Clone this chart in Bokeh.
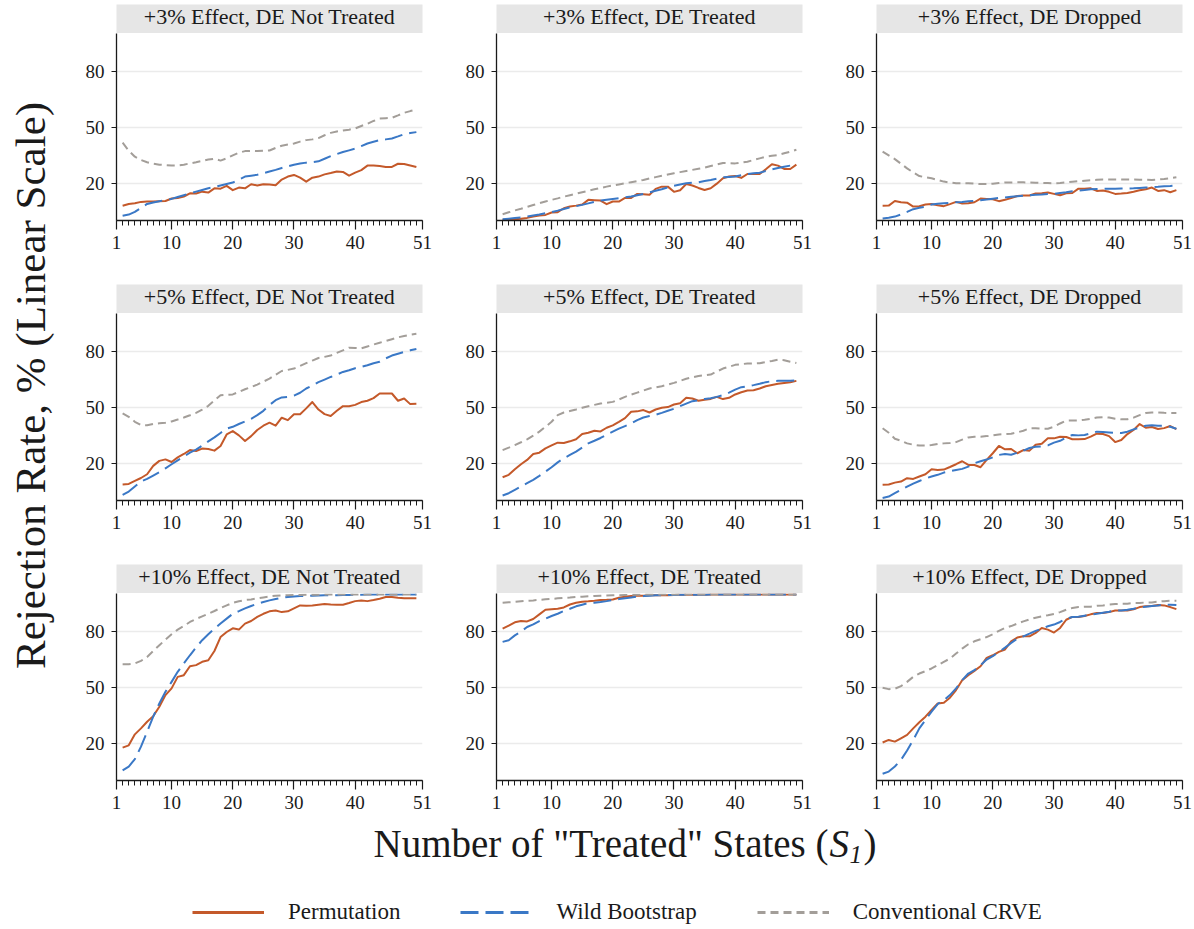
import math
from bokeh.plotting import figure
from bokeh.layouts import row, column
from bokeh.models import Range1d, FixedTicker, Legend, LegendItem
from bokeh.core.properties import value
from bokeh.embed import file_html
from bokeh.resources import INLINE

# ---------------------------------------------------------------- data
states = list(range(2, 51))            # number of treated states S1
x_ticks = [1, 10, 20, 30, 40, 51]
x_minor = list(range(1, 52))
y_ticks = [20, 50, 80]
effects = ["+3%", "+5%", "+10%"]
designs = ["DE Not Treated", "DE Treated", "DE Dropped"]
methods = ["Permutation", "Wild Bootstrap", "Conventional CRVE"]

# +3% effect
perm_3_nt = [7.9, 8.9, 9.3, 10.0, 10.2, 10.2, 10.4,
             10.5, 11.8, 12.1, 12.9, 14.6, 14.5, 15.5,
             15.0, 17.3, 17.1, 18.6, 16.3, 17.7, 17.3,
             19.5, 18.8, 19.5, 19.3, 18.9, 22.0, 23.6,
             24.5, 23.0, 20.9, 23.0, 23.6, 24.8, 25.5,
             26.3, 26.1, 24.1, 25.7, 27.1, 29.5, 29.5,
             29.3, 28.8, 28.8, 30.5, 30.4, 29.6, 28.8]
wild_3_nt = [2.5, 3.2, 4.6, 6.8, 8.9, 9.7, 10.4,
             11.0, 11.6, 12.6, 13.6, 14.6, 15.5, 16.4,
             17.3, 18.0, 18.8, 19.6, 20.4, 22.0, 23.6,
             24.1, 24.6, 25.4, 26.3, 27.2, 28.2, 29.1,
             30.0, 30.6, 31.1, 31.4, 31.8, 33.2, 34.6,
             35.7, 36.8, 37.7, 38.6, 40.0, 41.4, 42.3,
             43.2, 43.6, 44.1, 45.2, 46.4, 47.0, 47.5]
crve_3_nt = [41.8, 37.5, 34.3, 32.5, 31.3, 30.5, 30.0,
             29.8, 29.6, 29.6, 30.0, 30.7, 31.3, 32.0,
             32.8, 33.2, 32.2, 33.4, 35.0, 36.4, 37.3,
             37.4, 37.3, 37.5, 37.6, 39.0, 40.2, 40.8,
             41.4, 42.4, 43.2, 43.6, 44.3, 45.8, 47.1,
             47.8, 48.4, 48.8, 49.5, 50.8, 52.0, 53.5,
             54.8, 55.0, 55.2, 56.5, 57.9, 58.8, 59.6]

perm_3_t = [0.4, 0.5, 0.7, 0.9, 1.4, 2.1, 2.7,
            3.0, 4.3, 4.5, 6.6, 7.5, 8.0, 8.6,
            11.1, 10.9, 10.7, 8.8, 10.2, 10.2, 12.1,
            12.1, 14.3, 14.1, 13.8, 17.0, 18.2, 18.2,
            15.4, 16.3, 19.6, 18.8, 17.5, 16.4, 17.3,
            19.8, 22.7, 23.6, 23.9, 22.9, 25.0, 25.0,
            25.0, 27.5, 30.2, 29.5, 27.7, 27.7, 30.0]
wild_3_t = [0.7, 1.0, 1.3, 1.6, 2.1, 2.7, 3.2,
            3.9, 4.5, 5.3, 6.2, 7.0, 7.7, 8.4,
            9.2, 10.0, 10.7, 11.2, 11.6, 12.0, 12.5,
            12.9, 13.6, 14.3, 15.1, 16.0, 16.8, 17.8,
            18.7, 19.4, 20.0, 20.3, 20.5, 21.2, 21.8,
            22.5, 23.2, 23.4, 23.6, 24.3, 25.0, 25.4,
            25.7, 26.6, 27.5, 28.2, 28.9, 29.5, 30.0]
crve_3_t = [3.4, 4.4, 5.4, 6.3, 7.3, 8.3, 9.3,
            10.2, 11.1, 11.9, 12.8, 13.6, 14.4, 15.2,
            16.0, 16.8, 17.5, 18.2, 18.8, 19.4, 20.0,
            20.6, 21.2, 21.8, 22.6, 23.3, 24.0, 24.7,
            25.4, 26.0, 26.6, 27.2, 27.8, 28.4, 29.3,
            30.1, 30.9, 30.8, 30.7, 31.1, 31.6, 32.5,
            33.4, 34.3, 34.8, 35.2, 36.1, 37.0, 38.0]

perm_3_d = [7.9, 8.0, 10.5, 9.8, 9.6, 7.5, 7.7,
            8.6, 8.9, 8.2, 7.7, 8.8, 10.0, 9.1,
            9.3, 9.8, 11.8, 11.6, 11.4, 10.4, 11.1,
            12.1, 13.2, 13.4, 13.4, 14.5, 14.6, 15.0,
            14.3, 13.6, 14.6, 14.8, 17.1, 17.0, 17.3,
            15.9, 16.1, 15.4, 14.3, 14.5, 14.8, 15.5,
            16.3, 16.8, 17.7, 15.9, 16.3, 15.2, 16.3]
wild_3_d = [1.1, 1.5, 2.1, 3.2, 4.6, 6.1, 6.8,
            7.5, 8.6, 9.0, 9.3, 9.5, 9.8, 10.0,
            10.3, 10.6, 10.9, 11.3, 11.7, 12.1, 12.4,
            12.7, 13.0, 13.3, 13.6, 13.9, 14.0, 14.2,
            14.3, 14.8, 15.2, 15.7, 16.1, 16.4, 16.8,
            16.9, 17.0, 17.0, 17.1, 17.2, 17.2, 17.3,
            17.5, 17.7, 17.9, 18.1, 18.4, 18.6, 18.9]
crve_3_d = [37.0, 35.0, 33.0, 30.5, 28.0, 25.8, 23.9,
            23.2, 22.7, 21.8, 20.9, 20.4, 20.0, 20.0,
            20.0, 19.8, 19.6, 19.6, 19.8, 20.1, 20.4,
            20.4, 20.5, 20.5, 20.4, 20.3, 20.2, 20.1,
            20.0, 20.2, 20.5, 20.8, 21.1, 21.4, 21.6,
            21.9, 22.1, 22.1, 22.1, 22.1, 22.0, 22.0,
            21.9, 21.9, 21.8, 22.0, 22.3, 22.7, 23.2]

# +5% effect
perm_5_nt = [8.6, 8.9, 10.5, 12.1, 14.1, 18.6, 21.3,
             22.1, 20.7, 23.2, 25.0, 27.1, 26.6, 27.9,
             27.7, 26.8, 29.3, 35.5, 37.3, 35.0, 32.0,
             34.6, 37.9, 40.2, 41.8, 40.2, 44.5, 43.2,
             46.4, 46.4, 49.5, 52.9, 48.9, 46.4, 45.4,
             48.2, 50.7, 50.7, 51.4, 52.9, 53.6, 55.0,
             57.5, 57.5, 57.5, 53.6, 54.8, 51.8, 52.0]
wild_5_nt = [3.0, 4.8, 7.5, 10.2, 11.6, 13.4, 15.2,
             17.3, 19.5, 21.6, 23.6, 25.7, 27.3, 29.5,
             31.8, 33.9, 36.3, 38.6, 39.6, 41.1, 42.5,
             43.9, 45.9, 48.2, 51.3, 53.9, 55.4, 55.7,
             56.4, 57.9, 60.2, 61.8, 63.6, 65.0, 66.4,
             67.7, 69.1, 70.0, 71.1, 71.8, 72.7, 73.8,
             74.6, 76.4, 77.9, 78.9, 79.8, 80.7, 81.4]
crve_5_nt = [46.8, 45.0, 42.3, 40.5, 40.4, 41.1, 41.5,
             41.8, 42.5, 43.5, 44.6, 45.8, 47.1, 48.8,
             50.9, 53.8, 56.6, 56.8, 57.0, 58.4, 59.8,
             61.0, 62.3, 63.9, 65.5, 67.6, 69.6, 70.2,
             70.9, 72.3, 73.8, 75.2, 76.6, 77.2, 77.9,
             79.3, 80.7, 82.1, 82.0, 81.8, 82.8, 83.8,
             84.8, 85.7, 86.7, 87.7, 88.4, 89.1, 89.6]

perm_5_t = [12.5, 13.8, 16.8, 19.5, 21.8, 25.0, 25.7,
            28.0, 29.6, 31.1, 30.9, 31.8, 32.9, 35.7,
            36.4, 37.5, 37.1, 39.1, 40.4, 42.3, 44.3,
            47.7, 47.9, 48.6, 47.3, 48.9, 49.8, 50.2,
            51.6, 52.3, 55.2, 54.8, 53.6, 54.1, 54.6,
            55.7, 54.5, 55.2, 57.0, 58.2, 59.1, 59.3,
            60.2, 61.4, 62.1, 62.7, 63.2, 63.6, 64.3]
wild_5_t = [2.7, 3.9, 5.7, 7.5, 9.3, 11.1, 13.2,
            15.5, 17.9, 20.5, 22.7, 24.5, 26.3, 28.4,
            30.7, 32.1, 33.6, 35.4, 37.0, 38.6, 40.0,
            41.4, 43.2, 44.6, 45.4, 46.1, 47.1, 48.2,
            49.3, 50.7, 52.1, 53.4, 53.9, 54.5, 55.0,
            55.7, 56.6, 58.0, 59.6, 60.9, 61.4, 62.0,
            62.7, 63.6, 64.1, 64.3, 64.3, 64.3, 64.5]
crve_5_t = [27.1, 28.4, 29.8, 31.3, 32.9, 34.9, 37.0,
            39.6, 42.3, 45.9, 47.3, 48.1, 48.9, 49.8,
            50.7, 51.4, 52.1, 52.5, 53.0, 54.3, 55.7,
            56.9, 58.0, 59.1, 60.2, 60.8, 61.4, 62.3,
            63.2, 64.3, 65.4, 66.2, 66.9, 67.3, 67.7,
            69.3, 70.9, 71.9, 72.9, 73.3, 73.6, 73.7,
            73.8, 74.4, 75.0, 75.7, 75.4, 74.6, 73.9]

perm_5_d = [8.4, 8.6, 9.6, 10.2, 12.0, 11.6, 12.9,
            14.1, 16.8, 16.4, 16.6, 18.0, 19.5, 21.1,
            19.1, 19.1, 17.9, 21.8, 25.4, 29.3, 27.5,
            27.7, 25.4, 27.1, 26.8, 30.0, 30.5, 33.4,
            33.4, 34.3, 34.1, 32.9, 32.9, 33.0, 34.3,
            35.9, 35.7, 34.6, 31.4, 32.5, 35.7, 37.9,
            41.1, 39.1, 39.5, 38.4, 38.9, 40.0, 38.4]
wild_5_d = [1.3, 2.1, 3.9, 5.7, 7.5, 9.1, 10.5,
            11.8, 12.9, 13.8, 15.0, 15.7, 16.4, 17.0,
            18.2, 20.0, 21.1, 22.0, 23.2, 24.5, 25.0,
            24.6, 25.7, 26.8, 28.2, 28.9, 29.1, 29.6,
            31.1, 32.1, 33.9, 35.2, 35.0, 35.2, 36.1,
            37.0, 36.8, 36.6, 36.4, 36.3, 37.0, 38.2,
            39.3, 40.2, 40.4, 40.2, 40.2, 39.6, 38.6]
crve_5_d = [38.8, 36.4, 33.2, 32.1, 30.7, 30.0, 29.5,
            29.5, 29.8, 30.4, 30.7, 30.9, 31.4, 32.7,
            33.9, 34.3, 34.3, 34.6, 35.0, 35.5, 35.7,
            35.9, 36.6, 37.5, 38.8, 38.8, 38.6, 38.6,
            39.6, 41.4, 42.9, 43.0, 43.0, 43.4, 43.9,
            44.6, 44.8, 44.6, 43.9, 43.6, 43.7, 44.5,
            45.9, 47.0, 47.3, 47.3, 47.1, 47.0, 47.0]

# +10% effect
perm_10_nt = [17.7, 18.9, 24.8, 28.0, 31.6, 34.6, 39.6,
              45.9, 49.5, 55.7, 56.6, 61.4, 62.0, 63.8,
              64.6, 69.6, 77.1, 79.8, 81.8, 81.1, 84.3,
              85.7, 87.9, 89.6, 90.9, 91.4, 90.5, 90.9,
              92.5, 94.1, 93.9, 94.1, 94.5, 94.8, 94.6,
              94.5, 94.5, 95.4, 96.4, 96.8, 96.4, 97.0,
              97.7, 98.6, 98.6, 98.2, 97.9, 97.9, 97.9]
wild_10_nt = [5.4, 7.5, 11.5, 18.2, 26.2, 34.3, 41.4,
              47.7, 53.0, 58.4, 62.9, 67.3, 71.5, 75.4,
              78.6, 81.6, 84.4, 87.0, 89.6, 91.0, 92.5,
              93.8, 95.0, 95.9, 96.8, 97.5, 98.2, 98.6,
              98.9, 99.1, 99.2, 99.3, 99.4, 99.5, 99.6,
              99.6, 99.7, 99.7, 99.8, 99.8, 99.9, 99.9,
              99.9, 99.9, 99.9, 99.9, 99.9, 99.9, 99.9]
crve_10_nt = [62.5, 62.5, 62.9, 64.3, 66.4, 69.6, 72.7,
              75.7, 78.6, 81.1, 83.0, 85.2, 86.8, 88.2,
              89.6, 91.1, 92.7, 94.1, 95.5, 96.3, 97.0,
              97.3, 97.9, 98.4, 98.9, 99.3, 99.5, 99.6,
              99.7, 99.7, 99.8, 99.8, 99.8, 99.9, 99.9,
              99.9, 99.9, 99.9, 99.9, 99.9, 99.9, 99.9,
              99.9, 99.9, 99.9, 99.9, 99.9, 99.9, 99.9]

perm_10_t = [81.6, 83.2, 85.0, 85.7, 85.5, 86.8, 89.3,
             91.8, 92.1, 92.3, 93.0, 94.6, 95.5, 96.1,
             96.3, 96.6, 97.0, 97.1, 97.3, 98.2, 98.8,
             99.1, 99.3, 99.3, 99.5, 99.5, 99.6, 99.6,
             99.7, 99.8, 99.8, 99.8, 99.8, 99.8, 99.9,
             99.9, 99.9, 99.9, 99.9, 99.9, 99.9, 99.9,
             99.9, 99.9, 99.9, 99.9, 99.9, 99.9, 99.9]
wild_10_t = [74.5, 75.4, 78.0, 80.0, 82.5, 83.9, 85.7,
             87.0, 88.4, 89.6, 91.1, 92.3, 93.6, 94.5,
             95.4, 95.5, 95.9, 96.4, 97.0, 97.5, 98.0,
             98.4, 98.8, 99.1, 99.3, 99.5, 99.6, 99.7,
             99.7, 99.8, 99.8, 99.8, 99.8, 99.8, 99.9,
             99.9, 99.9, 99.9, 99.9, 99.9, 99.9, 99.9,
             99.9, 99.9, 99.9, 99.9, 99.9, 99.9, 99.9]
crve_10_t = [95.5, 95.8, 96.0, 96.3, 96.6, 96.8, 97.1,
             97.4, 97.6, 97.9, 98.1, 98.3, 98.6, 98.8,
             99.0, 99.2, 99.3, 99.4, 99.5, 99.6, 99.7,
             99.8, 99.8, 99.9, 99.9, 99.9, 99.9, 99.9,
             99.9, 99.9, 99.9, 99.9, 99.9, 99.9, 99.9,
             99.9, 99.9, 99.9, 99.9, 99.9, 99.9, 99.9,
             99.9, 99.9, 99.9, 99.9, 99.9, 99.9, 99.9]

perm_10_d = [20.4, 21.8, 20.9, 22.7, 24.5, 28.0, 31.3,
             34.3, 37.9, 41.4, 41.8, 44.5, 48.6, 53.9,
             56.6, 58.9, 61.4, 65.9, 67.3, 69.1, 70.4,
             74.8, 76.8, 77.5, 77.5, 79.3, 82.0, 81.1,
             79.5, 82.0, 86.4, 87.9, 87.9, 88.4, 89.3,
             90.0, 90.0, 90.5, 91.4, 91.4, 91.4, 92.0,
             93.2, 93.6, 93.8, 94.3, 94.1, 93.2, 92.1]
wild_10_d = [3.6, 4.8, 7.5, 11.1, 16.1, 21.8, 28.0,
             32.5, 37.0, 41.1, 43.2, 45.9, 49.5, 53.9,
             57.5, 59.3, 62.0, 65.0, 66.8, 69.1, 71.4,
             73.9, 76.3, 77.5, 78.9, 80.4, 81.6, 82.9,
             83.8, 85.2, 87.0, 87.9, 88.0, 88.6, 89.1,
             89.6, 90.2, 90.7, 91.3, 91.4, 91.8, 92.3,
             93.0, 93.4, 93.8, 94.1, 94.5, 94.5, 94.3]
crve_10_d = [49.8, 49.1, 49.3, 50.7, 53.0, 55.7, 57.5,
             58.8, 60.2, 62.0, 63.8, 65.5, 68.2, 70.9,
             73.2, 74.8, 75.9, 77.1, 78.6, 80.4, 82.0,
             83.0, 84.3, 85.5, 86.6, 87.5, 88.2, 88.8,
             89.5, 90.5, 91.8, 92.7, 93.2, 93.4, 93.4,
             93.9, 94.1, 94.5, 94.8, 95.0, 95.0, 95.4,
             95.4, 95.7, 95.7, 96.1, 96.4, 96.6, 96.6]

panel_series = {
    ("+3%", "DE Not Treated"): (perm_3_nt, wild_3_nt, crve_3_nt),
    ("+3%", "DE Treated"): (perm_3_t, wild_3_t, crve_3_t),
    ("+3%", "DE Dropped"): (perm_3_d, wild_3_d, crve_3_d),
    ("+5%", "DE Not Treated"): (perm_5_nt, wild_5_nt, crve_5_nt),
    ("+5%", "DE Treated"): (perm_5_t, wild_5_t, crve_5_t),
    ("+5%", "DE Dropped"): (perm_5_d, wild_5_d, crve_5_d),
    ("+10%", "DE Not Treated"): (perm_10_nt, wild_10_nt, crve_10_nt),
    ("+10%", "DE Treated"): (perm_10_t, wild_10_t, crve_10_t),
    ("+10%", "DE Dropped"): (perm_10_d, wild_10_d, crve_10_d),
}

# ---------------------------------------------------------------- style
FONT = "Liberation Serif"
INK = "#1a1a1a"
STRIP_FILL = "#e6e6e6"
GRID = "#ebebeb"
STYLES = {
    "Permutation": dict(line_color="#c4592a", line_width=2),
    "Wild Bootstrap": dict(line_color="#3a78c6", line_width=2, line_dash="18 7"),
    "Conventional CRVE": dict(line_color="#a39e99", line_width=2, line_dash="8 5"),
}
FRAME_W = 306
FRAME_H = 187
RIGHT_PAD = 10


def bare_figure(width, height, xr, yr, **borders):
    f = figure(width=width, height=height, x_range=xr, y_range=yr,
               x_axis_type=None, y_axis_type=None,
               output_backend="svg", toolbar_location=None, title=None,
               min_border_left=borders.get("left", 0),
               min_border_right=borders.get("right", 0),
               min_border_top=borders.get("top", 0),
               min_border_bottom=borders.get("bottom", 0))
    f.outline_line_color = None
    f.grid.visible = False
    return f


def make_strip(label, left):
    # grey facet header; y range is in pixels of the 29 px band
    s = bare_figure(left + FRAME_W + RIGHT_PAD, 33, Range1d(0, 1), Range1d(0, 29),
                    left=left, right=RIGHT_PAD, top=4)
    s.background_fill_color = STRIP_FILL
    s.text(x=[0.5], y=[17], text=[label], text_align="center",
           text_baseline="alphabetic", text_font=value(FONT),
           text_font_size="22px", text_color=INK)
    return s


def make_panel(series, left, bottom):
    p = figure(width=left + FRAME_W + RIGHT_PAD, height=FRAME_H + bottom,
               x_range=Range1d(1, 51), y_range=Range1d(0, 100.5),
               output_backend="svg", toolbar_location=None, title=None,
               min_border_left=left, min_border_right=RIGHT_PAD,
               min_border_top=0, min_border_bottom=bottom)
    p.outline_line_color = None
    p.background_fill_color = "white"

    p.xaxis.ticker = FixedTicker(ticks=x_ticks, minor_ticks=x_minor)
    p.yaxis.ticker = FixedTicker(ticks=y_ticks, minor_ticks=[])
    for ax in (p.xaxis, p.yaxis):
        ax.axis_line_color = INK
        ax.axis_line_width = 1.3
        ax.major_tick_line_color = INK
        ax.major_tick_line_width = 1.2
        ax.minor_tick_line_color = INK
        ax.minor_tick_line_width = 1.0
        ax.major_tick_in = 0
        ax.minor_tick_in = 0
        ax.major_label_text_font = FONT
        ax.major_label_text_font_size = "19px"
        ax.major_label_text_color = INK
    p.xaxis.major_tick_out = 9
    p.xaxis.minor_tick_out = 5
    p.xaxis.major_label_standoff = 6
    p.yaxis.major_tick_out = 5
    p.yaxis.minor_tick_out = 0
    p.yaxis.major_label_standoff = 7

    p.xgrid.visible = False
    p.ygrid.grid_line_color = GRID
    p.ygrid.grid_line_width = 1.4

    for name, ys in zip(methods, series):
        p.line(states, ys, line_join="round", **STYLES[name])
    return p


# ---------------------------------------------------------------- panels
rows = []
for r, eff in enumerate(effects):
    strips, panels = [], []
    bottom = 60 if r < 2 else 40
    for c, des in enumerate(designs):
        left = 60 if c == 0 else 64
        strips.append(make_strip(f"{eff} Effect, {des}", left))
        panels.append(make_panel(panel_series[(eff, des)], left, bottom))
    rows.append(row(strips, spacing=0))
    rows.append(row(panels, spacing=0))
grid = column(rows, spacing=0)
GRID_H = 3 * 33 + 2 * (FRAME_H + 60) + (FRAME_H + 40)

# shared y-axis title
ylab = bare_figure(56, GRID_H, Range1d(0, 56), Range1d(0, GRID_H))
ylab.text(x=[30], y=[GRID_H - 385], text=["Rejection Rate, % (Linear Scale)"],
          angle=math.pi / 2, text_align="center", text_baseline="alphabetic",
          text_font=value(FONT), text_font_size="43px", text_color=INK)

# shared x-axis title with an italic S and subscript 1
TOTAL_W = 56 + (60 + FRAME_W + RIGHT_PAD) + 2 * (64 + FRAME_W + RIGHT_PAD)
xlab = bare_figure(TOTAL_W, 50, Range1d(0, TOTAL_W), Range1d(0, 50))
xlab.text(x=[828], y=[27], text=['Number of "Treated" States ('], text_align="right",
          text_baseline="alphabetic", text_font=value(FONT),
          text_font_size="39px", text_color=INK)
xlab.text(x=[829], y=[27], text=["S"], text_align="left", text_baseline="alphabetic",
          text_font=value(FONT), text_font_style="italic",
          text_font_size="39px", text_color=INK)
xlab.text(x=[849], y=[16], text=["1"], text_align="left", text_baseline="alphabetic",
          text_font=value(FONT), text_font_style="italic",
          text_font_size="25px", text_color=INK)
xlab.text(x=[863], y=[27], text=[")"], text_align="left", text_baseline="alphabetic",
          text_font=value(FONT), text_font_size="39px", text_color=INK)

# legend strip (proxy renderers carry only the line styles)
nan = float("nan")
leg = bare_figure(TOTAL_W, 59, Range1d(0, 1), Range1d(0, 1))
items = []
for name in methods:
    style = dict(STYLES[name])
    style["line_width"] = 3
    rr = leg.line(x=[nan, nan], y=[nan, nan], **style)
    items.append(LegendItem(label=name, renderers=[rr]))
legend = Legend(items=items, orientation="horizontal", location=(192, 4),
                glyph_width=72, glyph_height=20, label_standoff=24, spacing=60,
                padding=0, margin=0, border_line_color=None,
                background_fill_alpha=0, label_text_font=FONT,
                label_text_font_size="23px", label_text_color=INK)
leg.add_layout(legend)

page = column(row(ylab, grid, spacing=0), xlab, leg, spacing=0)

open("out.html", "w").write(file_html(page, INLINE))
